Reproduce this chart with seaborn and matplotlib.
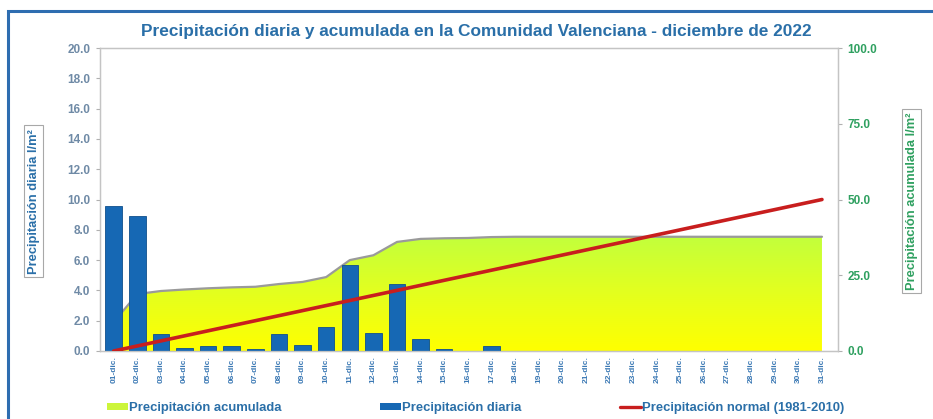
import numpy as np
import matplotlib
matplotlib.use("Agg")
import matplotlib.pyplot as plt
import seaborn as sns
from matplotlib.colors import LinearSegmentedColormap
from matplotlib.lines import Line2D
from matplotlib.patches import Patch, Rectangle

# --- data ---
days = [f"{d:02d}-dic." for d in range(1, 32)]
daily = [9.6, 8.9, 1.1, 0.2, 0.35, 0.3, 0.1, 1.1, 0.4, 1.6,
         5.7, 1.2, 4.4, 0.8, 0.1, 0.0, 0.35, 0.0, 0.0, 0.0,
         0.0, 0.0, 0.0, 0.0, 0.0, 0.0, 0.0, 0.0, 0.0, 0.0, 0.0]
accum = [9.6, 18.8, 19.8, 20.3, 20.7, 21.0, 21.2, 22.1, 22.8, 24.4,
         30.0, 31.6, 36.0, 37.0, 37.2, 37.3, 37.6, 37.7, 37.7, 37.7,
         37.7, 37.7, 37.7, 37.7, 37.7, 37.7, 37.7, 37.7, 37.7, 37.7, 37.7]
normal_days = ["01-dic.", "31-dic."]
normal_vals = [0.0, 50.0]

left_ticks = [0, 2, 4, 6, 8, 10, 12, 14, 16, 18, 20]
right_ticks = [0, 25, 50, 75, 100]

BLUE_TXT = "#2a6fa8"
BAR = "#1668b4"
GREEN_TXT = "#2fa060"
RED = "#c81e1e"

sns.set_style("white")
plt.rcParams["font.family"] = ["Liberation Sans", "DejaVu Sans"]

fig = plt.figure(figsize=(9.33, 4.19), dpi=100)
ax2 = fig.add_axes([0.1072, 0.1623, 0.7910, 0.7231])
ax = ax2.twinx()
ax3 = ax2.twinx()
ax2.set_zorder(0)
ax.set_zorder(1)
ax3.set_zorder(2)
ax.patch.set_visible(False)
ax3.patch.set_visible(False)

xpos = np.arange(len(days))

# accumulated area with yellow gradient
poly = ax2.fill_between(xpos, accum, 0, color="none", lw=0)
cmap = LinearSegmentedColormap.from_list("acc", ["#ffff00", "#e4ff1e", "#c2ff3c"])
grad = np.linspace(0, 1, 256).reshape(-1, 1)
im = ax2.imshow(grad, extent=[0, len(days) - 1, 0, max(accum)], origin="lower",
                aspect="auto", cmap=cmap, zorder=1)
im.set_clip_path(poly.get_paths()[0], transform=ax2.transData)
ax2.plot(xpos, accum, color="#9a9a9a", lw=1.6, zorder=2)

# daily bars
sns.barplot(x=days, y=daily, ax=ax, color=BAR, width=0.7, saturation=1,
            edgecolor="#0f4f8c", linewidth=0.6)

# normal line
sns.lineplot(x=[days.index(d) for d in normal_days], y=normal_vals, ax=ax3,
             color=RED, lw=2.6)

xl = (-0.58, 30.68)
for a in (ax, ax2, ax3):
    a.set_xlim(*xl)
ax.set_ylim(0, 20)
ax2.set_ylim(0, 100)
ax3.set_ylim(0, 100)
ax3.axis("off")

# left axis (on ax, ticks on the left)
ax.yaxis.tick_left()
ax.set_yticks(left_ticks)
ax.set_yticklabels([f"{v:.1f}" for v in left_ticks], fontsize=8.5, fontweight="bold",
                   color="#6f8aa6")
ax.set_xlabel("")
ax.set_ylabel("")
ax.tick_params(axis="y", length=3, color="#b0b0b0", pad=4)

# x labels on the base axes (twins hide their x axis)
ax2.set_xticks(xpos)
ax2.set_xticklabels(days, rotation=90, fontsize=6, fontweight="bold", color="#3a78b4")
ax2.tick_params(axis="x", length=0, pad=4)

ax2.yaxis.tick_right()
ax2.set_yticks(right_ticks)
ax2.set_yticklabels([f"{v:.1f}" for v in right_ticks], fontsize=8.5, fontweight="bold",
                    color=GREEN_TXT)
ax2.tick_params(axis="y", length=3, color="#b0b0b0", pad=4)

for a in (ax, ax2):
    for s in a.spines.values():
        s.set_color("#c4c4c4")
        s.set_linewidth(0.9)

# titles and axis labels
fig.text(0.511, 0.926, "Precipitación diaria y acumulada en la Comunidad Valenciana - diciembre de 2022",
         ha="center", va="center", fontsize=12.4, fontweight="bold", color=BLUE_TXT)
fig.text(0.036, 0.52, "Precipitación diaria l/m²", rotation=90, ha="center", va="center",
         fontsize=9.3, fontweight="bold", color=BLUE_TXT,
         bbox=dict(boxstyle="square,pad=0.25", fc="white", ec="#a8a8a8", lw=0.8))
fig.text(0.977, 0.52, "Precipitación acumulada l/m²", rotation=90, ha="center", va="center",
         fontsize=9.3, fontweight="bold", color=GREEN_TXT,
         bbox=dict(boxstyle="square,pad=0.25", fc="white", ec="#a8a8a8", lw=0.8))

# legend
handles = [Patch(facecolor="#ccf53a", edgecolor="none"),
           Patch(facecolor=BAR, edgecolor="none"),
           Line2D([0], [0], color=RED, lw=2.4)]
labels = ["Precipitación acumulada", "Precipitación diaria", "Precipitación normal (1981-2010)"]
leg = fig.legend(handles, labels, loc="center left", bbox_to_anchor=(0.1147, 0.026), ncol=3,
                 frameon=False, handlelength=1.6, handleheight=0.35,
                 handletextpad=0.05, columnspacing=7.6, borderpad=0, borderaxespad=0,
                 prop={"weight": "bold", "size": 9.4})
for t in leg.get_texts():
    t.set_color(BLUE_TXT)

# outer blue frame
fig.patches.append(Rectangle((0.0086, -0.2), 1.3, 0.9737 + 0.2, transform=fig.transFigure,
                             fill=False, edgecolor="#2e6db0", lw=2.2))

fig.savefig("out.png", dpi=100)
